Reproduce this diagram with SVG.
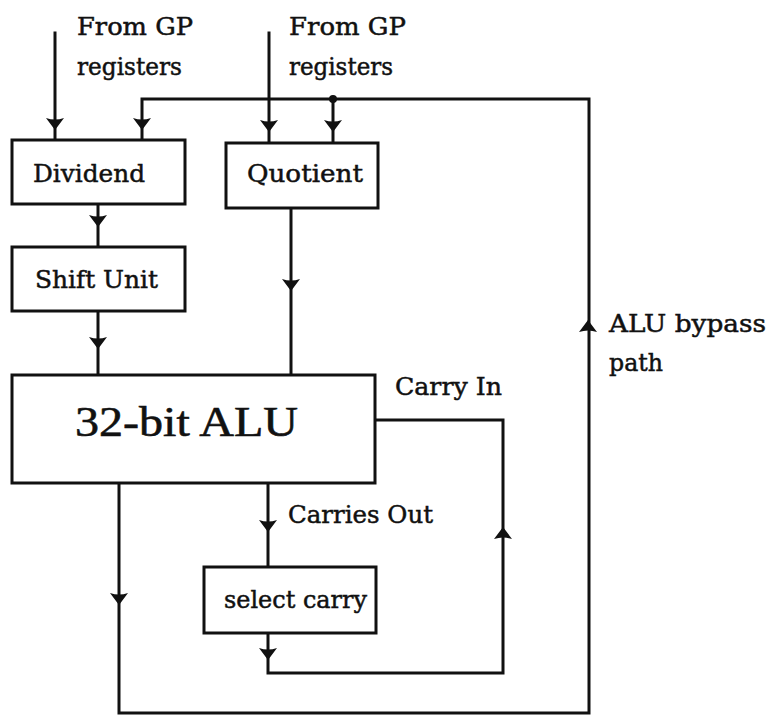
<svg xmlns="http://www.w3.org/2000/svg" xmlns:xlink="http://www.w3.org/1999/xlink" width="769" height="715" viewBox="0 0 769 715">
<style>
.box{fill:#fff;stroke:#111;stroke-width:3}
.ln{fill:none;stroke:#111;stroke-width:3;stroke-linejoin:miter;stroke-linecap:square}
.t{font-family:"DejaVu Serif","Liberation Serif",serif;font-size:25px;fill:#111;stroke:#111;stroke-width:0.5}
.big{font-family:"Liberation Serif","DejaVu Serif",serif;font-size:43px;fill:#111;stroke:#111;stroke-width:0.6}
.ah{fill:#111}
</style>
<defs>
<path id="down" class="ah" d="M-9,0 Q0,3 9,0 L0,12 Z"/>
<path id="up" class="ah" d="M-9,0 Q0,-3 9,0 L0,-12 Z"/>
</defs>
<rect width="769" height="715" fill="#fff"/>
<g id="connectors">
<path class="ln" d="M55,33 V140"/>
<path class="ln" d="M269,33 V143"/>
<path class="ln" d="M142,140 V99 H589 V713 H119 V483"/>
<path class="ln" d="M333,99 V143"/>
<circle cx="333" cy="99" r="4" fill="#111"/>
<path class="ln" d="M98,204 V247"/>
<path class="ln" d="M98,311 V375"/>
<path class="ln" d="M291,208 V375"/>
<path class="ln" d="M268,483 V567"/>
<path class="ln" d="M268,633 V673 H503 V420 H375"/>
<use xlink:href="#down" x="55" y="118"/>
<use xlink:href="#down" x="142" y="118"/>
<use xlink:href="#down" x="269" y="120"/>
<use xlink:href="#down" x="333" y="120"/>
<use xlink:href="#down" x="98" y="215"/>
<use xlink:href="#down" x="98" y="337"/>
<use xlink:href="#down" x="291" y="279"/>
<use xlink:href="#down" x="268" y="520"/>
<use xlink:href="#down" x="268" y="648"/>
<use xlink:href="#down" x="119" y="593"/>
<use xlink:href="#up" x="503" y="539"/>
<use xlink:href="#up" x="588" y="332"/>
</g>
<g id="labels">
<text class="t" x="77" y="35" textLength="116" lengthAdjust="spacingAndGlyphs">From GP</text>
<text class="t" x="77" y="75" textLength="105" lengthAdjust="spacingAndGlyphs">registers</text>
<text class="t" x="289" y="35" textLength="117" lengthAdjust="spacingAndGlyphs">From GP</text>
<text class="t" x="289" y="75" textLength="104" lengthAdjust="spacingAndGlyphs">registers</text>
<text class="t" x="395" y="395" textLength="107" lengthAdjust="spacingAndGlyphs">Carry In</text>
<text class="t" x="288" y="523" textLength="145" lengthAdjust="spacingAndGlyphs">Carries Out</text>
<text class="t" x="609" y="332" textLength="157" lengthAdjust="spacingAndGlyphs">ALU bypass</text>
<text class="t" x="609" y="371" textLength="54" lengthAdjust="spacingAndGlyphs">path</text>
</g>
<g id="dividend">
<rect class="box" x="12" y="140" width="173" height="64"/>
<text class="t" x="33" y="182" textLength="112" lengthAdjust="spacingAndGlyphs">Dividend</text>
</g>
<g id="quotient">
<rect class="box" x="226" y="143" width="152" height="65"/>
<text class="t" x="247" y="182" textLength="116" lengthAdjust="spacingAndGlyphs">Quotient</text>
</g>
<g id="shift-unit">
<rect class="box" x="12" y="247" width="173" height="64"/>
<text class="t" x="35" y="288" textLength="123" lengthAdjust="spacingAndGlyphs">Shift Unit</text>
</g>
<g id="alu">
<rect class="box" x="12" y="375" width="363" height="108"/>
<text class="big" x="75" y="436" textLength="223" lengthAdjust="spacingAndGlyphs">32-bit ALU</text>
</g>
<g id="select-carry">
<rect class="box" x="204" y="567" width="172" height="66"/>
<text class="t" x="224" y="608" textLength="143" lengthAdjust="spacingAndGlyphs">select carry</text>
</g>
</svg>
